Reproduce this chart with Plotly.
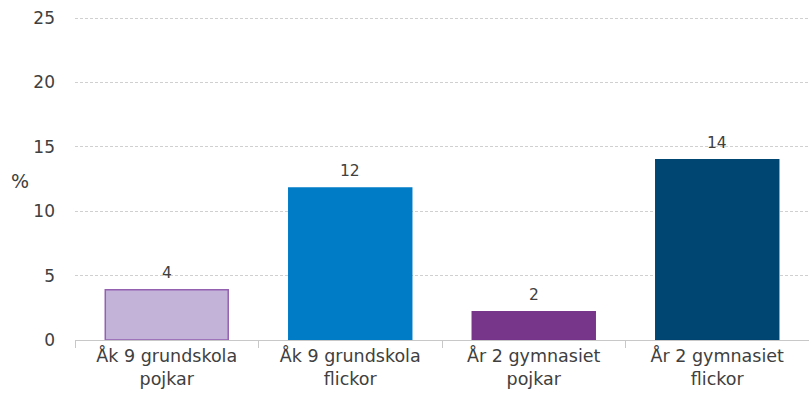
import plotly.graph_objects as go

categories = ["Åk 9 grundskola<br>pojkar", "Åk 9 grundskola<br>flickor",
              "År 2 gymnasiet<br>pojkar", "År 2 gymnasiet<br>flickor"]
values = [3.9, 11.8, 2.2, 14.0]
labels = ["4", "12", "2", "14"]
colors = ["#C3B3D9", "#007CC7", "#77368A", "#004673"]
outline = ["#9460B0", "#007CC7", "#77368A", "#004673"]
y_ticks = [0, 5, 10, 15, 20, 25]

font_family = "DejaVu Sans, Verdana, sans-serif"

fig = go.Figure(go.Bar(
    x=categories, y=values,
    marker=dict(color=colors, line=dict(color=outline, width=1.5)),
    width=0.67,
))

annotations = [
    dict(x=c, y=v, text=t, xref="x", yref="y", showarrow=False,
         yanchor="bottom", yshift=6,
         font=dict(size=15.5, color="#404040", family=font_family))
    for c, v, t in zip(categories, values, labels)
]
annotations.append(dict(text="%", x=-55 / 734, y=(340 - 181) / 323,
                        xref="paper", yref="paper", xanchor="center", yanchor="middle",
                        showarrow=False, font=dict(size=19, color="#404040")))

fig.update_layout(
    width=809, height=400,
    margin=dict(l=75, r=0, t=17, b=60, autoexpand=False),
    plot_bgcolor="white", paper_bgcolor="white",
    showlegend=False,
    font=dict(family=font_family, size=17, color="#404040"),
    xaxis=dict(
        automargin=False,
        showline=True, linecolor="#C8C8C8", linewidth=1,
        ticks="outside", tickson="boundaries", ticklen=7, tickcolor="#C8C8C8",
        tickfont=dict(size=17.5, color="#404040"),
    ),
    yaxis=dict(
        automargin=False,
        range=[0, 25.08], tickvals=y_ticks, showline=False,
        showgrid=True, gridcolor="#D0D0D0", griddash="3px,2px", gridwidth=1,
        zeroline=False, ticks="", tickfont=dict(size=17, color="#404040"),
        ticklabelstandoff=19,
    ),
    annotations=annotations,
)

fig.write_html("out.html", config={"displayModeBar": False},
               post_script="document.body.style.margin='0';")
